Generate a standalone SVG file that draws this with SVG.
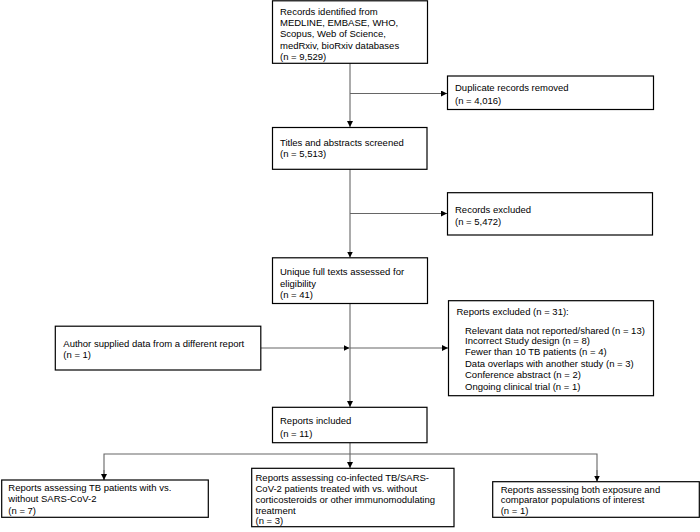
<svg xmlns="http://www.w3.org/2000/svg" width="700" height="532" viewBox="0 0 700 532">
<style>
.box{fill:#fff;stroke:#000;stroke-width:1.2}
text{font-family:"Liberation Sans",Arial,sans-serif;font-size:9.5px;fill:#000}
.ln{fill:none;stroke:#666;stroke-width:1.1}
</style>
<defs>
<marker id="ah" markerUnits="userSpaceOnUse" markerWidth="8" markerHeight="8" refX="6" refY="3" orient="auto">
<path d="M0,0 L6,3 L0,6 Z" fill="#000"/>
</marker>
</defs>
<rect width="700" height="532" fill="#fff"/>
<g id="connectors">
<line class="ln" x1="350" y1="63" x2="350" y2="127" marker-end="url(#ah)"/>
<line class="ln" x1="350" y1="93.5" x2="447" y2="93.5" marker-end="url(#ah)"/>
<line class="ln" x1="350" y1="169" x2="350" y2="257.5" marker-end="url(#ah)"/>
<line class="ln" x1="350" y1="213.5" x2="447" y2="213.5" marker-end="url(#ah)"/>
<line class="ln" x1="350" y1="303.5" x2="350" y2="407" marker-end="url(#ah)"/>
<line class="ln" x1="350" y1="348" x2="448" y2="348" marker-end="url(#ah)"/>
<line class="ln" x1="261" y1="348" x2="349.5" y2="348" marker-end="url(#ah)"/>
<line class="ln" x1="350" y1="443" x2="350" y2="468" marker-end="url(#ah)"/>
<polyline class="ln" points="104,480 104,454 597,454 597,481.5"/>
<line class="ln" x1="104" y1="470" x2="104" y2="480" marker-end="url(#ah)"/>
<line class="ln" x1="597" y1="470" x2="597" y2="481.5" marker-end="url(#ah)"/>
</g>
<g id="n1">
<rect class="box" x="272.5" y="0.8" width="155" height="62.5"/>
<text x="280" y="15.2">Records identified from</text>
<text x="280" y="26.3">MEDLINE, EMBASE, WHO,</text>
<text x="280" y="37.4">Scopus, Web of Science,</text>
<text x="280" y="48.5">medRxiv, bioRxiv databases</text>
<text x="280" y="59.6">(n = 9,529)</text>
</g>
<g id="n2">
<rect class="box" x="447.5" y="76" width="206" height="33.5"/>
<text x="455" y="90.8">Duplicate records removed</text>
<text x="455" y="104">(n = 4,016)</text>
</g>
<g id="n3">
<rect class="box" x="272.5" y="127.5" width="154.5" height="41.8"/>
<text x="280" y="146.2">Titles and abstracts screened</text>
<text x="280" y="157">(n = 5,513)</text>
</g>
<g id="n4">
<rect class="box" x="447.5" y="192.7" width="205" height="42.3"/>
<text x="455" y="212.5">Records excluded</text>
<text x="455" y="225.2">(n = 5,472)</text>
</g>
<g id="n5">
<rect class="box" x="272.5" y="257.8" width="155" height="45.7"/>
<text x="280" y="275.2">Unique full texts assessed for</text>
<text x="280" y="286.6">eligibility</text>
<text x="280" y="298.4">(n = 41)</text>
</g>
<g id="n6">
<rect class="box" x="448.5" y="300.7" width="205" height="95"/>
<text x="456.5" y="315.2">Reports excluded (n = 31):</text>
<text x="465" y="333.5">Relevant data not reported/shared (n = 13)</text>
<text x="465" y="344.4">Incorrect Study design (n = 8)</text>
<text x="465" y="355.3">Fewer than 10 TB patients (n = 4)</text>
<text x="465" y="366.6">Data overlaps with another study (n = 3)</text>
<text x="465" y="378.3">Conference abstract (n = 2)</text>
<text x="465" y="390">Ongoing clinical trial (n = 1)</text>
</g>
<g id="n7">
<rect class="box" x="55.3" y="326.2" width="205.5" height="43.8"/>
<text x="63.3" y="346.8">Author supplied data from a different report</text>
<text x="63.3" y="357.8">(n = 1)</text>
</g>
<g id="n8">
<rect class="box" x="272.5" y="407.3" width="154.5" height="35.4"/>
<text x="280" y="424.2">Reports included</text>
<text x="280" y="436.8">(n = 11)</text>
</g>
<g id="n9">
<rect class="box" x="1.7" y="480" width="206.6" height="37.3"/>
<text x="8.3" y="490.8">Reports assessing TB patients with vs.</text>
<text x="8.3" y="501.8">without SARS-CoV-2</text>
<text x="8.3" y="513.5">(n = 7)</text>
</g>
<g id="n10">
<rect class="box" x="251.7" y="468.3" width="202.3" height="58.4"/>
<text x="255.5" y="480.8">Reports assessing co-infected TB/SARS-</text>
<text x="255.5" y="491.8">CoV-2 patients treated with vs. without</text>
<text x="255.5" y="503.2">corticosteroids or other immunomodulating</text>
<text x="255.5" y="514.3">treatment</text>
<text x="255.5" y="524.2">(n = 3)</text>
</g>
<g id="n11">
<rect class="box" x="492.7" y="481.7" width="206.6" height="35.6"/>
<text x="500.7" y="492.8">Reports assessing both exposure and</text>
<text x="500.7" y="502.8">comparator populations of interest</text>
<text x="500.7" y="514.2">(n = 1)</text>
</g>
</svg>
